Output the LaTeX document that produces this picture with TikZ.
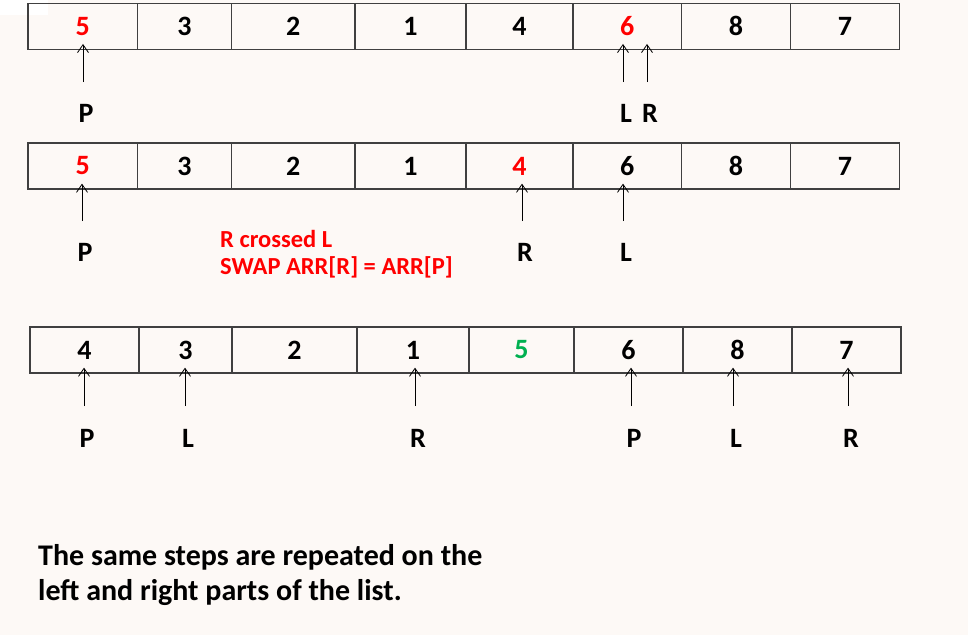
\documentclass[tikz,border=0pt]{standalone}
\usepackage{fontspec}
\setmainfont{Carlito}
\usetikzlibrary{arrows.meta}
\definecolor{paper}{RGB}{253,249,246}
\definecolor{cellline}{RGB}{64,64,64}
\definecolor{hired}{RGB}{255,0,0}
\definecolor{higreen}{RGB}{0,176,80}

\begin{document}
\begin{tikzpicture}[x=1pt,y=-1pt,
	cell/.style={draw=cellline, line width=1.3pt, minimum height=46pt, inner sep=0pt, font=\fontsize{28}{30}\selectfont\bfseries},
	lbl/.style={inner sep=0pt, font=\fontsize{28}{30}\selectfont\bfseries},
	ptr/.style={-{Straight Barb[length=8pt,width=11pt]}, line width=0.8pt, shorten >=-6pt},
	note/.style={anchor=west, align=left, inner sep=0pt}]
	
	\useasboundingbox[fill=paper] (0,0) rectangle (968,635);
	\fill[white] (0,0) rectangle (48,15);
	
	% row 1
	\foreach \i/\x/\w/\v/\c in {1/82.75/109.5/5/hired, 2/184.5/94/3/black, 3/293.25/123.5/2/black, 4/410.5/111/1/black, 5/519.5/107/4/black, 6/627.25/108.5/6/hired, 7/736/109/8/black, 8/845/109/7/black}
	\node[cell, minimum width=\w pt, text=\c] (ra\i) at (\x,26.3) {\v};
	\foreach \x/\l/\c in {83/P/1, 623/L/6, 647/R/6}{
		\node[lbl] (la\l) at (\x+3,113) {\l};
		\coordinate (ta\l) at (\x,82);
		\draw[ptr] (ta\l) -- (ta\l |- ra\c.south);
	}
	
	% row 2
	\foreach \i/\x/\w/\v/\c in {1/82.75/109.5/5/hired, 2/184.5/94/3/black, 3/293.25/123.5/2/black, 4/410.5/111/1/black, 5/519.5/107/4/hired, 6/627.25/108.5/6/black, 7/736/109/8/black, 8/845/109/7/black}
	\node[cell, minimum width=\w pt, text=\c] (rb\i) at (\x,166) {\v};
	\foreach \x/\l/\c in {82/P/1, 522/R/5, 623/L/6}{
		\node[lbl] (lb\l) at (\x+3,252) {\l};
		\coordinate (tb\l) at (\x,221);
		\draw[ptr] (tb\l) -- (tb\l |- rb\c.south);
	}
	\node[note, text=hired, font=\fontsize{24.5}{27}\selectfont\bfseries] (swap) at (220,254) {R crossed L\\SWAP ARR[R] = ARR[P]};
	
	% row 3
	\foreach \i/\x/\w/\v/\c in {1/84.5/109/4/black, 2/185.5/93/3/black, 3/294.5/125/2/black, 4/413/112/1/black, 5/521.5/105/5/higreen, 6/628.5/109/6/black, 7/737.5/109/8/black, 8/846.5/109/7/black}
	\node[cell, minimum width=\w pt, text=\c] (rc\i) at (\x,350) {\v};
	\foreach \x/\l/\c/\k in {84/P/1/a, 185/L/2/a, 415/R/4/a, 631/P/6/b, 733/L/7/b, 848/R/8/b}{
		\node[lbl] (lc\l\k) at (\x+3,438) {\l};
		\coordinate (tc\l\k) at (\x,406);
		\draw[ptr] (tc\l\k) -- (tc\l\k |- rc\c.south);
	}
	
	\node[note, font=\fontsize{30}{35}\selectfont\bfseries] (rest) at (38,575) {The same steps are repeated on the\\left and right parts of the list.};
\end{tikzpicture}
\end{document}
